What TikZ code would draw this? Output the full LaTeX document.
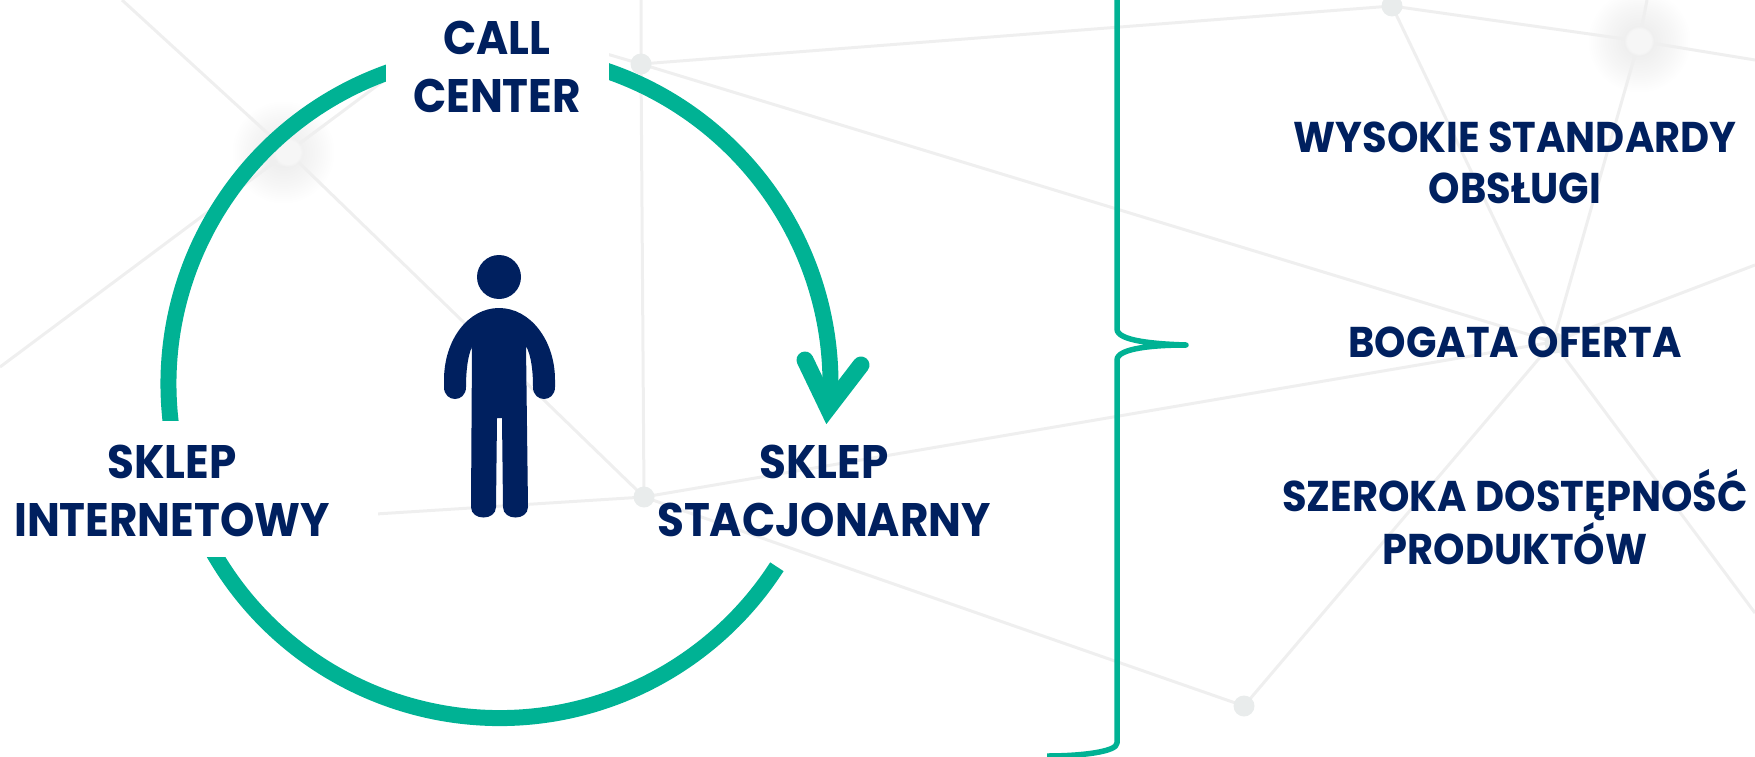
\documentclass[tikz,border=0pt]{standalone}
\usepackage{fontspec}
\usetikzlibrary{fadings}
\newfontfamily\gothic[FakeStretch=0.93]{Poppins Bold}
\definecolor{navy}{HTML}{00205F}
\definecolor{teal}{HTML}{00B294}
\definecolor{webline}{HTML}{EFEFEF}
\definecolor{webdot}{HTML}{E9ECEC}
\definecolor{corefill}{HTML}{F6F6F6}
\pgfdeclareradialshading{glowshade}{\pgfpoint{0bp}{0bp}}{
  color(0bp)=(corefill); color(7bp)=(webline); color(16bp)=(corefill); color(25bp)=(white); color(50bp)=(white)}
\tikzset{
  web/.style={draw=webline,line width=3pt},
  dot/.style={circle,fill=webdot,minimum size=21pt,inner sep=0pt},
  glow/.style={circle,minimum size=104pt,inner sep=0pt,shading=glowshade},
  glowcore/.style={fill=corefill,path fading=circle with fuzzy edge 20 percent},
  ringarc/.style={draw=teal,line width=16pt},
  maskbox/.style={fill=white,draw=none},
  bigtxt/.style={text=navy,font=\gothic\fontsize{47}{58}\selectfont,align=center,inner sep=0pt},
  sidetxt/.style={text=navy,font=\gothic\fontsize{43}{51}\selectfont,align=center,inner sep=0pt},
}
\begin{document}
\begin{tikzpicture}[x=1pt,y=-1pt]
\useasboundingbox (0,0) rectangle (1755,757);
% glows
\node[glow] (g1) at (283,152) {};
\node[glow] (g2) at (1639,41) {};
% web end points
\coordinate (tl) at (122,0);
\coordinate (le) at (0,367);
\coordinate (up) at (386,79);
\coordinate (ua) at (641,0);
\coordinate (aw) at (600,52);
\coordinate (bw) at (360,515);
\coordinate (u2) at (1647,0);
\coordinate (re) at (1755,60);
\coordinate (re2) at (1755,265);
\coordinate (re3) at (1755,613);
\coordinate (d) at (1553,342);
\coordinate (gc1) at (288,152);
\coordinate (gc2) at (1639,41);
\coordinate (ac) at (641,64);
\coordinate (bc) at (644,497);
\coordinate (cc) at (1392,6);
\coordinate (ec) at (1244,706);
\draw[web] (tl) -- (gc1) -- (bc);
\draw[web] (le) -- (up);
\draw[web] (ua) -- (ac) -- (bc);
\draw[web] (aw) -- (ac) -- (d);
\draw[web] (ac) -- (cc);
\draw[web] (bw) -- (bc) -- (d);
\draw[web] (bc) -- (ec) -- (d);
\draw[web] (cc) -- (d);
\draw[web] (cc) -- (gc2) -- (re);
\draw[web] (u2) -- (gc2) -- (d);
\draw[web] (d) -- (re2);
\draw[web] (d) -- (re3);
\node[dot] (a) at (ac) {};
\node[dot] (b) at (bc) {};
\node[dot] (c) at (cc) {};
\node[dot] (e) at (ec) {};
\node[dot] (dd) at (1555,343) {};
\fill[glowcore] (gc1) circle[radius=15];
\fill[glowcore] (gc2) circle[radius=15];
% ring
\coordinate (o) at (499.5,388);
\coordinate (ot) at (499.5,384);
\draw[ringarc] (ot) ++(-75:331) arc[start angle=-75,end angle=2,radius=331];
\draw[ringarc] (ot) ++(255:331) arc[start angle=255,end angle=170,radius=331];
\draw[ringarc] (o) ++(155:330) arc[start angle=155,end angle=32.8,radius=330];
% white plates behind labels
\fill[maskbox] (386,0) rectangle (609,115);
\fill[maskbox] (0,421) rectangle (378,557);
% arrow head
\coordinate (hl) at (805,360);
\coordinate (hm) at (828,408);
\coordinate (hr) at (861,365);
\draw[draw=teal,line width=17pt,line cap=round,line join=miter,miter limit=10] (hl) -- (hm) -- (hr);
% bracket
\coordinate (bt) at (1117,0);
\coordinate (bm1) at (1117,329);
\coordinate (tip) at (1186,345);
\coordinate (bm2) at (1117,360);
\coordinate (bb) at (1117,743);
\coordinate (bend) at (1047,756);
\draw[draw=teal,line width=5.5pt,line join=round]
  (bt) -- (bm1) .. controls (1117,341) and (1155,344) .. (tip)
  .. controls (1155,345) and (1117,348) .. (bm2) -- (bb)
  .. controls (1117,752) and (1080,756) .. (bend);
% person
\fill[navy] (499,277) circle[radius=22];
\fill[navy] (499,308) .. controls (468,308) and (444,340) .. (444,380) -- (444,387)
  .. controls (444,403) and (466,403) .. (466,387)
  .. controls (466,370) and (468,355) .. (472,347)
  -- (471,507) .. controls (471,521) and (496,521) .. (496,507)
  -- (497,418) -- (502,418) -- (503,507)
  .. controls (503,521) and (528,521) .. (528,507)
  -- (526,346) .. controls (531,355) and (533,370) .. (533,387)
  .. controls (533,403) and (555,403) .. (555,387) -- (555,380)
  .. controls (555,340) and (530,308) .. (499,308) -- cycle;
% labels
\node[bigtxt] (call) at (497,67) {CALL\\CENTER};
\node[bigtxt] (inet) at (172,491) {SKLEP\\INTERNETOWY};
\node[bigtxt] (stac) at (824,491) {SKLEP\\STACJONARNY};
\node[sidetxt] (wys) at (1515,163) {WYSOKIE STANDARDY\\OBSŁUGI};
\node[sidetxt] (bog) at (1515,342) {BOGATA OFERTA};
\node[sidetxt] (sze) at (1515,517) {SZEROKA DOSTĘPNOŚĆ\\PRODUKTÓW};
\end{tikzpicture}
\end{document}
